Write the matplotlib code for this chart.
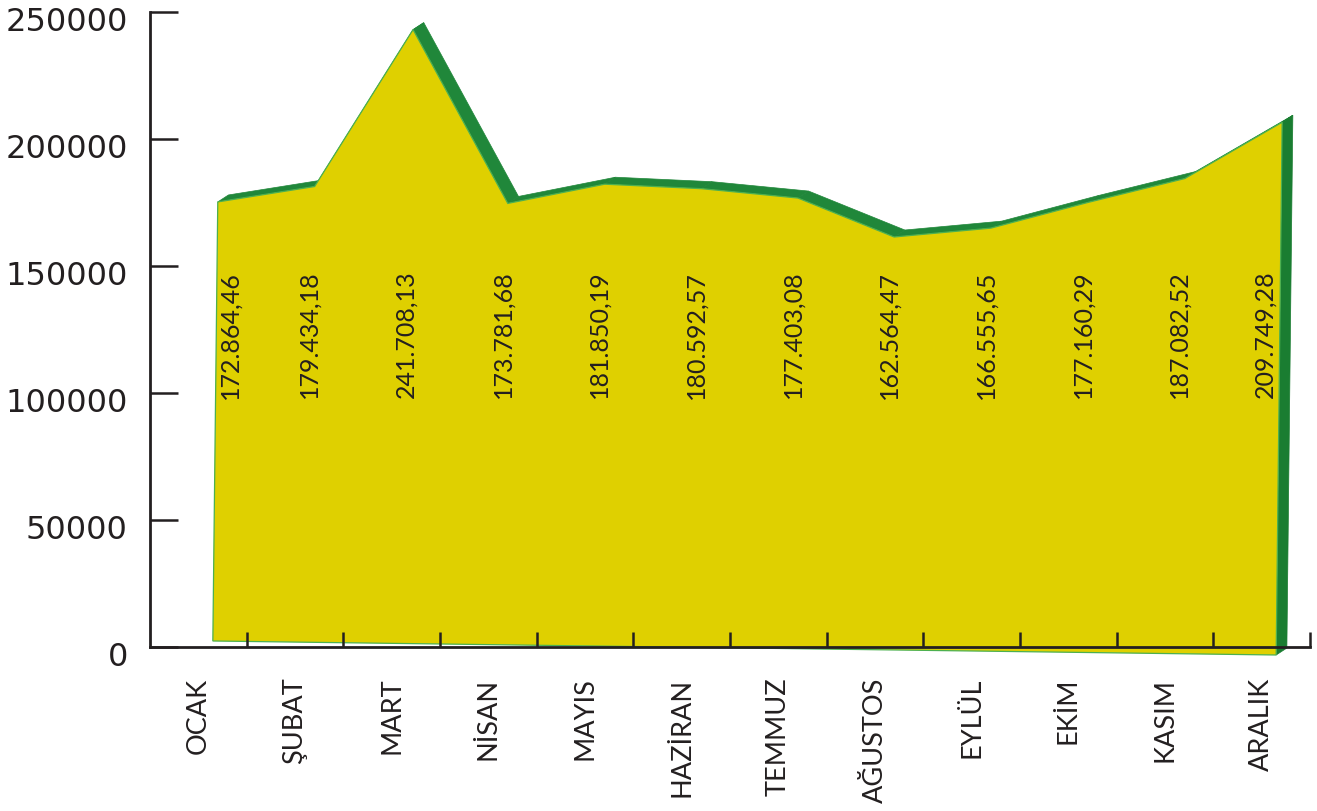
import numpy as np
import matplotlib.pyplot as plt
from matplotlib.patches import Polygon
from matplotlib.transforms import Affine2D, ScaledTranslation

# aylar ve tutarlar
months = ["OCAK", "ŞUBAT", "MART", "NİSAN", "MAYIS", "HAZİRAN",
          "TEMMUZ", "AĞUSTOS", "EYLÜL", "EKİM", "KASIM", "ARALIK"]
values = [172864.46, 179434.18, 241708.13, 173781.68, 181850.19, 180592.57,
          177403.08, 162564.47, 166555.65, 177160.29, 187082.52, 209749.28]
value_labels = ["172.864,46", "179.434,18", "241.708,13", "173.781,68",
                "181.850,19", "180.592,57", "177.403,08", "162.564,47",
                "166.555,65", "177.160,29", "187.082,52", "209.749,28"]
yticks = [0, 50000, 100000, 150000, 200000, 250000]

YELLOW = "#dfd000"
GREEN = "#20873a"
GREEN_SIDE = "#1a7d31"
EDGE = "#4cb050"
INK = "#231f20"

fig = plt.figure(figsize=(13.17, 8.11), dpi=100)
ax = fig.add_axes([150 / 1317, 164 / 811, 1160 / 1317, 635 / 811])
ax.set_xlim(0, 12)
ax.set_ylim(0, 250000)

# sahte 3B görünüm: ön yüzü hafif eğ, arka yüzü sağa-yukarı kaydır
kx, ky, c = 2.95e-7, -501.0, 2688.0
front_tr = Affine2D(np.array([[1, kx, 0], [ky, 1, c], [0, 0, 1]])) + ax.transData
dx, dy = 0.11, 2800.0

xs = np.arange(len(values)) + 0.65
top = np.column_stack([xs, values])
back = top + [dx, dy]

# üst şeritler
for i in range(len(values) - 1):
    quad = [top[i], top[i + 1], back[i + 1], back[i]]
    ax.add_patch(Polygon(quad, closed=True, facecolor=GREEN, edgecolor=GREEN,
                         lw=0.5, transform=front_tr, clip_on=False, zorder=1))

# sağ yan yüz
bottom_last = np.array([xs[-1], 0.0])
side = [top[-1], back[-1], bottom_last + [dx, dy], bottom_last]
ax.add_patch(Polygon(side, closed=True, facecolor=GREEN_SIDE, edgecolor=GREEN_SIDE,
                     lw=0.5, transform=front_tr, clip_on=False, zorder=1))

# ön yüz
front = [(xs[0], 0)] + [tuple(p) for p in top] + [(xs[-1], 0)]
ax.add_patch(Polygon(front, closed=True, facecolor=YELLOW, edgecolor=EDGE,
                     lw=0.9, transform=front_tr, clip_on=False, zorder=1.2))

# değer etiketleri
for i, (x, s) in enumerate(zip(xs, value_labels)):
    ha = "left" if i == 0 else ("right" if i == len(xs) - 1 else "center")
    ax.text(x + (0.06 if i == 0 else 0), 123000, s, rotation=90, ha=ha, va="center",
            fontsize=18, family=["Lato", "DejaVu Sans"], color=INK, zorder=3)

# eksenler
for side_name in ["top", "right"]:
    ax.spines[side_name].set_visible(False)
for side_name in ["left", "bottom"]:
    ax.spines[side_name].set_linewidth(2.0)
    ax.spines[side_name].set_color(INK)

ax.set_yticks(yticks)
ax.set_yticklabels([str(v) for v in yticks])
ax.tick_params(axis="y", direction="in", length=20, width=1.8, color=INK,
               pad=16, labelsize=23, labelcolor=INK)
shift_down = ScaledTranslation(0, -5 / 72, fig.dpi_scale_trans)
for lab in ax.get_yticklabels():
    lab.set_family("DejaVu Sans")
    lab.set_transform(lab.get_transform() + shift_down)

ax.set_xticks(np.arange(1, 13))
ax.set_xticklabels([])
ax.set_xticks(np.arange(12) + 0.5, minor=True)
ax.set_xticklabels(months, minor=True, rotation=90, fontsize=19.5,
                   family=["Lato", "DejaVu Sans"], color=INK)
ax.tick_params(axis="x", which="major", direction="in", length=11, width=1.8, color=INK)
ax.tick_params(axis="x", which="minor", length=0, pad=22)

fig.savefig("out.png", dpi=100)
